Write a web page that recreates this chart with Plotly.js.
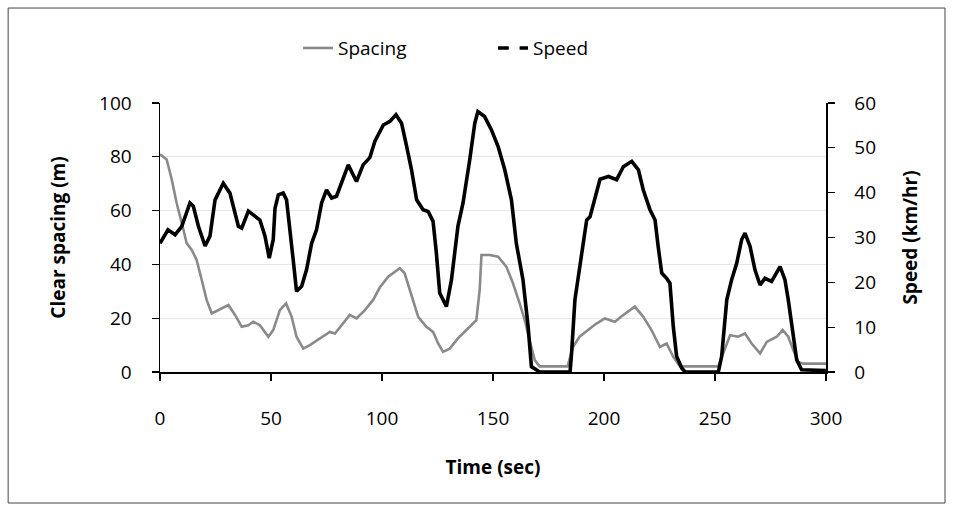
<!DOCTYPE html>
<html><head><meta charset="utf-8">
<script src="https://cdn.plot.ly/plotly-3.0.1.min.js"></script>
<style>html,body{margin:0;padding:0;background:#fff}#c{width:953px;height:511px}</style>
</head><body><div id="c"></div>
<script>
const speedTime = [0,3.6,6.8,9.8,13.5,15,17.3,20.3,22.5,24.8,28.5,31.5,35.3,36.8,39.8,42,45,47.3,49.2,51,51.8,53.3,55.5,57,58.5,60,61.5,63.8,66,68.3,70.5,72.8,75,77.3,79.5,81.8,84.8,88.5,91.5,94.5,96.8,100.6,103.6,106.3,108.8,111.1,113.3,115.6,118.5,120.8,123,124.5,126,129,131.3,134.2,136.5,139.5,141.8,143.2,146.2,149.3,152.3,155.3,158.3,160.5,163.5,165.8,167.3,169.5,171,184.7,185.4,186.9,189.9,192.2,193.7,196.2,198.2,202,205.7,208.7,212.5,215.5,217.7,220.7,223,224.4,226,228.2,229.7,231.2,232.7,235,236.5,251.5,253,255.3,257.5,259.8,262,263.5,265.8,268,270.3,272.5,275.5,279.3,281.5,283,284.5,286.8,289,300];
const speed = [28.7,31.7,30.6,32.5,37.7,37,32.5,28.1,30.3,38.4,42.1,39.9,32.5,32.1,35.9,35.1,33.9,30.3,25.4,29.5,36.5,39.5,39.9,38.4,32.5,25,18,19.1,22.8,28.7,31.7,37.7,40.6,38.8,39.2,42.5,46.2,42.5,46.2,47.8,51.5,55.1,55.9,57.4,55.5,50.3,45.1,38.4,36.2,35.8,33.6,26.5,17.6,14.6,20.6,32.5,37.7,47.3,55.5,58.1,57,54,50.3,45.1,38.4,28.7,20.6,10.2,1.2,0.5,0,0,4.2,16.1,26.5,33.9,34.6,39.1,43,43.6,42.9,45.8,47,45.1,40.6,36.2,33.9,28,22.1,20.9,19.8,10.2,3.5,0.9,0,0,3.5,16.1,20.6,24.3,29.5,31,28,22.8,19.4,20.9,20.2,23.5,20.6,16.1,10.2,2.7,0.5,0.3];
const spacingTime = [0,3,5.3,7.5,9.8,12,14.3,16.5,18.8,21,23.3,26.3,30.8,33.8,36.8,39.8,42,45,48.8,51,54,56.8,59.3,61.5,64.5,67.5,72,76.5,78.8,81.8,85.5,88.5,92.3,96,99,102.8,108,110.2,113.3,116.3,120,123,125.3,127.5,130.5,134.2,138,142.5,144,144.8,148.5,152.3,156,159,162,164.3,166.5,168.8,171,183.6,186,189,192.8,196.6,200.4,204.9,208.7,213.9,217.7,221.4,225.2,228.2,231.2,234.2,251.5,253.8,256.8,260.5,263.5,266.5,270.3,273.3,277.8,280.5,283,285.3,287.5,289.8,300];
const spacing = [80.9,79,71.5,62.8,55.4,47.9,45.4,41.7,34.2,26.8,21.8,23,24.9,21.2,16.8,17.4,18.7,17.4,13.1,15.6,23,25.5,20.5,13.1,8.7,10,12.5,14.9,14.3,17.4,21.2,19.9,23,26.8,31.4,35.4,38.6,36.7,28,20.5,16.8,14.9,10.6,7.5,8.7,12.5,15.6,19.3,30.5,43.5,43.5,42.9,39.2,33,25.5,19.3,11.8,4.4,2.1,2.1,9.3,13.1,15.6,18,19.9,18.7,21.2,24.3,20.5,15.6,9.3,10.6,5.6,2.1,2.1,6.9,13.7,13.1,14.3,10.6,6.9,11.2,13.1,15.6,13.1,8.1,3.7,3.1,3.1];
const xTicks = [0,50,100,150,200,250,300];
const leftTicks = [0,20,40,60,80,100];
const rightTicks = [0,10,20,30,40,50,60];

const F = "'Open Sans', 'Noto Sans', sans-serif";
const FS = 19;
const traces = [
  {x: spacingTime, y: spacing, name: 'Spacing', type: 'scatter', mode: 'lines',
   line: {color: '#8a8a8a', width: 2.6}, yaxis: 'y'},
  {x: speedTime, y: speed, name: 'Speed', type: 'scatter', mode: 'lines',
   line: {color: '#000', width: 3.6}, yaxis: 'y2', showlegend: false},
  {x: [null], y: [null], name: 'Speed', type: 'scatter', mode: 'lines',
   line: {color: '#000', width: 3.6, dash: 'dash'}, yaxis: 'y2'}
];
const axisCommon = {showline: true, linecolor: '#000', linewidth: 1.5, ticks: 'outside', ticklen: 7,
                    tickcolor: '#000', tickwidth: 1.2, zeroline: false, tickfont: {family: F, size: FS}};
const layout = {
  width: 953, height: 511,
  margin: {l: 160, r: 127, t: 103, b: 139},
  paper_bgcolor: '#fff', plot_bgcolor: '#fff',
  font: {family: F, size: FS, color: '#000'},
  showlegend: true,
  legend: {orientation: 'h', x: 0.5, xanchor: 'center', y: 1.204, yanchor: 'middle',
           entrywidth: 150, entrywidthmode: 'pixels',
           font: {family: F, size: FS, color: '#000'}},
  xaxis: Object.assign({}, axisCommon, {range: [0, 300], tickvals: xTicks, ticktext: xTicks.map(String),
          showgrid: false, ticklabelstandoff: 22,
          title: {text: '<b>Time (sec)</b>', font: {family: F, size: FS}, standoff: 30}}),
  yaxis: Object.assign({}, axisCommon, {range: [0, 100], tickvals: leftTicks, ticktext: leftTicks.map(String),
          showgrid: true, gridcolor: '#e6e6e6', gridwidth: 1, ticklabelstandoff: 16,
          title: {text: '<b>Clear spacing (m)</b>', font: {family: F, size: FS}, standoff: 28}}),
  yaxis2: Object.assign({}, axisCommon, {range: [0, 60], tickvals: rightTicks, ticktext: rightTicks.map(String),
           overlaying: 'y', side: 'right', showgrid: false, ticklabelstandoff: 16,
           title: {text: '<b>Speed (km/hr)</b>', font: {family: F, size: FS}, standoff: 28}}),
  shapes: [{type: 'rect', xref: 'paper', yref: 'paper',
            x0: -0.228, x1: 1.1787, y0: -0.487, y1: 1.353,
            line: {color: '#444', width: 1}}]
};
Plotly.newPlot('c', traces, layout, {staticPlot: true, displayModeBar: false});
</script>
</body></html>
